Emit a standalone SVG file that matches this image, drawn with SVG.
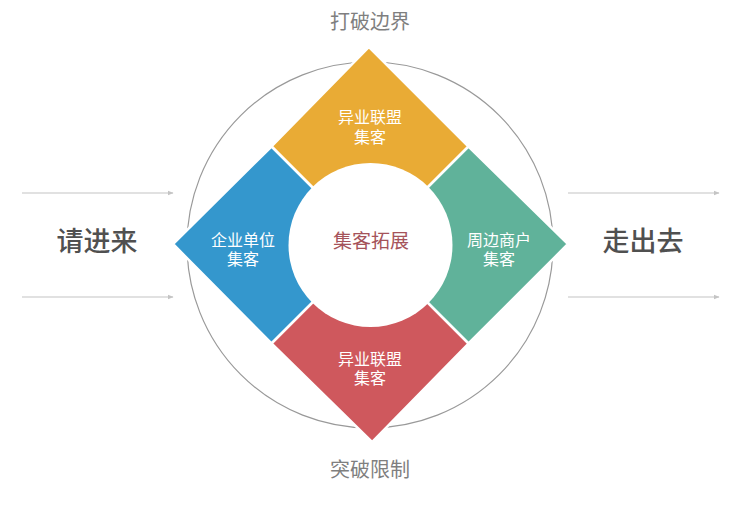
<svg xmlns="http://www.w3.org/2000/svg" width="735" height="505" viewBox="0 0 735 505">
<style>
.t{font-family:"Liberation Sans","Noto Sans CJK SC",sans-serif;text-anchor:middle;dominant-baseline:central}
.w{fill:#ffffff;font-size:16px}
.g{fill:#7f7f7f;font-size:20px}
.b{fill:#505050;font-size:27px;font-weight:500}
.piece{stroke:#ffffff;stroke-width:2.5;stroke-linejoin:miter}
.arr{stroke:#c4c4c4;stroke-width:1.2;fill:none;marker-end:url(#ah)}
</style>
<defs>
<marker id="ah" viewBox="0 0 10 10" refX="9" refY="5" markerWidth="6" markerHeight="6" orient="auto" markerUnits="userSpaceOnUse">
<path d="M0,1 L10,5 L0,9 Z" fill="#c4c4c4"/>
</marker>
</defs>
<rect width="735" height="505" fill="#ffffff"/>
<g id="connectors">
<line class="arr" x1="22" y1="193" x2="173" y2="193"/>
<line class="arr" x1="22" y1="297" x2="173" y2="297"/>
<line class="arr" x1="568" y1="193" x2="719" y2="193"/>
<line class="arr" x1="568" y1="297" x2="719" y2="297"/>
</g>
<g id="ring"><circle cx="370" cy="245" r="183" fill="none" stroke="#999999" stroke-width="1.2"/></g>
<g id="top-piece">
<polygon class="piece" fill="#e9ab35" points="369,47 468.5,146.5 370,245 271.5,146.5"/>
<text class="t w" x="370" y="117">异业联盟</text>
<text class="t w" x="370" y="137">集客</text>
</g>
<g id="left-piece">
<polygon class="piece" fill="#3497cd" points="271.5,146.5 370,245 271.5,343.5 173,244"/>
<text class="t w" x="243" y="240">企业单位</text>
<text class="t w" x="243" y="259">集客</text>
</g>
<g id="right-piece">
<polygon class="piece" fill="#60b29a" points="468.5,146.5 568,244 468.5,343.5 370,245"/>
<text class="t w" x="499" y="240">周边商户</text>
<text class="t w" x="499" y="259">集客</text>
</g>
<g id="bottom-piece">
<polygon class="piece" fill="#cf585d" points="370,245 468.5,343.5 372,442 271.5,343.5"/>
<text class="t w" x="370" y="359">异业联盟</text>
<text class="t w" x="370" y="378">集客</text>
</g>
<g id="center">
<circle cx="370.5" cy="245" r="82" fill="#ffffff"/>
<text class="t" x="371" y="241" font-size="19" fill="#a5535a">集客拓展</text>
</g>
<g id="top-label"><text class="t g" x="370" y="22">打破边界</text></g>
<g id="bottom-label"><text class="t g" x="370" y="470">突破限制</text></g>
<g id="left-label"><text class="t b" x="97" y="242">请进来</text></g>
<g id="right-label"><text class="t b" x="643" y="242">走出去</text></g>
</svg>
